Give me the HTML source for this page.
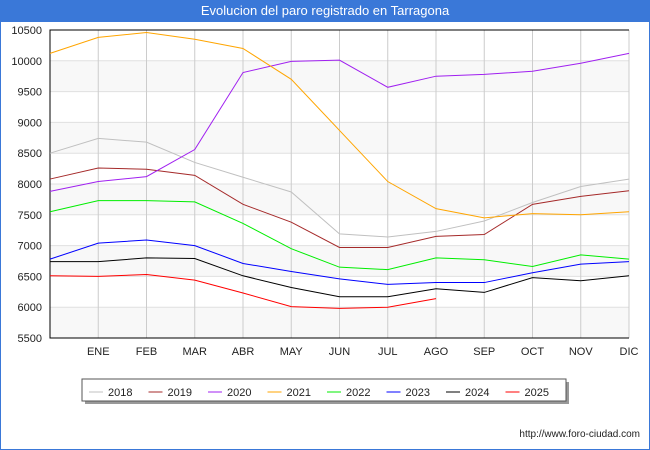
<!DOCTYPE html>
<html><head><meta charset="utf-8"><style>
body{margin:0;width:650px;height:450px;overflow:hidden;background:#fff;font-family:"Liberation Sans","DejaVu Sans",sans-serif}
#frame{position:absolute;left:0;top:0;width:648px;height:448px;border:1px solid #3a78d8}
#title{position:absolute;left:0;top:0;width:650px;height:22px;background:#3a78d8;color:#fff;font-size:13px;text-align:center;line-height:22px}
</style></head><body>
<div id="frame"></div>
<div id="title">Evolucion del paro registrado en Tarragona</div>
<svg id="chart" width="650" height="450" style="position:absolute;left:0;top:0"></svg>
<script>
const months=["","ENE","FEB","MAR","ABR","MAY","JUN","JUL","AGO","SEP","OCT","NOV","DIC"];
const yTicks=[5500,6000,6500,7000,7500,8000,8500,9000,9500,10000,10500];
const years=["2018","2019","2020","2021","2022","2023","2024","2025"];
const colors=["#c0c0c0","#a52a2a","#a020f0","#ffa500","#00ee00","#0000ff","#000000","#ff0000"];
const s2018=[8500,8740,8680,8350,8110,7870,7190,7140,7230,7400,7700,7960,8080];
const s2019=[8080,8260,8240,8140,7670,7380,6970,6970,7150,7180,7670,7800,7890];
const s2020=[7880,8040,8120,8560,9810,9990,10010,9570,9750,9780,9830,9960,10120];
const s2021=[10120,10380,10460,10350,10200,9700,8870,8040,7600,7450,7520,7500,7550];
const s2022=[7550,7730,7730,7710,7360,6950,6650,6610,6800,6770,6660,6850,6780];
const s2023=[6780,7040,7090,7000,6710,6580,6460,6370,6400,6400,6560,6700,6740];
const s2024=[6740,6740,6800,6790,6510,6320,6170,6170,6300,6240,6480,6430,6510];
const s2025=[6510,6500,6530,6440,6230,6010,5980,6000,6140];
const series=[s2018,s2019,s2020,s2021,s2022,s2023,s2024,s2025];
const L=50,R=629,T=30,B=338;
const x=i=>L+(R-L)*i/12;
const y=v=>B-(v-5500)/(10500-5500)*(B-T);
const NS="http://www.w3.org/2000/svg";
const svg=document.getElementById('chart');
function el(t,a,p){const e=document.createElementNS(NS,t);for(const k in a)e.setAttribute(k,a[k]);(p||svg).appendChild(e);return e;}
for(let i=0;i<yTicks.length-1;i++){if(i%2===0){const r=el('rect',{x:L,y:y(yTicks[i+1]),width:R-L,height:y(yTicks[i])-y(yTicks[i+1]),fill:'#f8f8f8'});

}}
yTicks.forEach(v=>{const g=el('line',{x1:L,x2:R,y1:y(v),y2:y(v),stroke:'#e0e0e0','stroke-width':1});


const t=el('text',{x:L-8,y:y(v)+4,'text-anchor':'end','font-size':11,fill:'#222'});t.textContent=v;

});
months.forEach((m,i)=>{if(i>0){const g=el('line',{x1:x(i),x2:x(i),y1:T,y2:B,stroke:'#cccccc','stroke-width':1});

}
const t=el('text',{x:x(i),y:B+17,'text-anchor':'middle','font-size':11,fill:'#222'});t.textContent=m;

});
const ax=el('path',{d:`M${R},${T}H${L}V${B}H${R}`,fill:'none',stroke:'#000','stroke-width':1});


series.forEach((s,k)=>{const p=el('polyline',{points:s.map((v,i)=>x(i)+','+y(v)).join(' '),fill:'none',stroke:colors[k],'stroke-width':1});

});
const lg=el('g',{});


el('rect',{x:85,y:382,width:484,height:22,fill:'#999'},lg);
el('rect',{x:82,y:379,width:484,height:22,fill:'#fff',stroke:'#555'},lg);
years.forEach((yr,k)=>{const g=el('g',{},lg);


const lx=89+k*59.5;
el('line',{x1:lx,x2:lx+14,y1:392,y2:392,stroke:colors[k],'stroke-width':1},g);
const t=el('text',{x:lx+19,y:396,'font-size':11,fill:'#222'},g);t.textContent=yr;});
const u=el('text',{x:640,y:437,'text-anchor':'end','font-size':10,fill:'#222'});u.textContent='http://www.foro-ciudad.com';


</script>
</body></html>
